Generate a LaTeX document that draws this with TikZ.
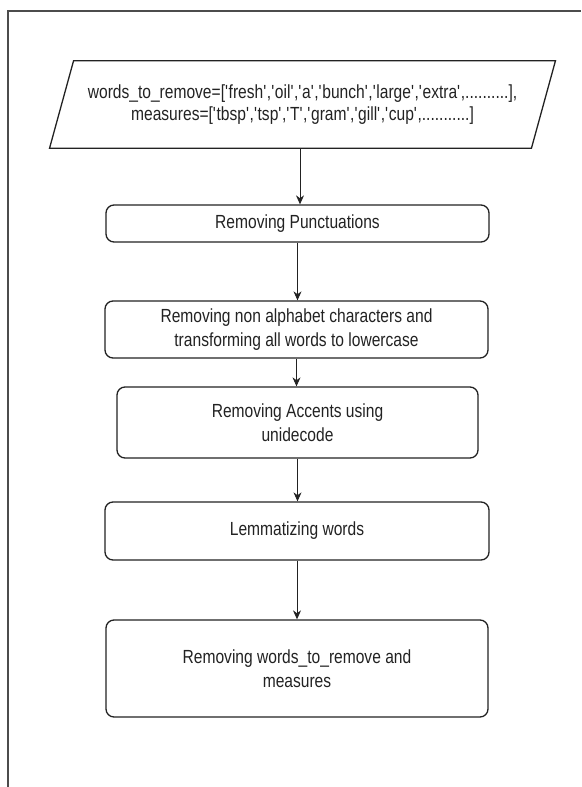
\documentclass[tikz,border=0pt]{standalone}
\usepackage{fontspec}
\setmainfont[FakeStretch=0.82]{Liberation Sans}
\usetikzlibrary{arrows.meta}
\definecolor{ink}{HTML}{222222}
\newcommand\sq{\textquotesingle}
\begin{document}
\begin{tikzpicture}[x=1pt,y=-1pt,
  stepbox/.style={draw=ink, line width=1.3pt, rounded corners=8pt, align=center,
     text=ink, font=\fontsize{19}{24}\selectfont, inner sep=0pt},
  conn/.style={draw=ink, line width=0.9pt, -{Stealth[length=9pt,width=8pt]}}]
\useasboundingbox (0,0) rectangle (581,787);
\draw[line width=1.3pt, draw=black!70] (8,787) -- (8,11) -- (581,11);
% input parallelogram
\node[align=center, text=ink, font=\fontsize{19}{22}\selectfont, minimum width=481.5pt,
      minimum height=87pt, inner sep=0pt] (in) at (302.5,104.5)
  {words\_to\_remove=[\sq fresh\sq,\sq oil\sq,\sq a\sq,\sq bunch\sq,\sq large\sq,\sq extra\sq,..........],\\
   measures=[\sq tbsp\sq,\sq tsp\sq,\sq T\sq,\sq gram\sq,\sq gill\sq,\sq cup\sq,...........]};
\draw[draw=ink, line width=1.3pt] ([xshift=12pt]in.north west) -- ([xshift=12pt]in.north east)
  -- ([xshift=-12pt]in.south east) -- ([xshift=-12pt]in.south west) -- cycle;
\node[stepbox, minimum width=383pt, minimum height=37pt] (b1) at (297.5,223.5) {Removing Punctuations};
\node[stepbox, minimum width=383pt, minimum height=57pt] (b2) at (296.5,329.5)
  {Removing non alphabet characters and\\transforming all words to lowercase};
\node[stepbox, minimum width=361pt, minimum height=71pt] (b3) at (297.5,422.5)
  {Removing Accents using\\unidecode};
\node[stepbox, minimum width=384pt, minimum height=58pt] (b4) at (297,531) {Lemmatizing words};
\node[stepbox, minimum width=382pt, minimum height=97pt] (b5) at (297,668.5)
  {Removing words\_to\_remove and\\measures};
\draw[conn] ([xshift=-2.5pt]in.south) -- ([xshift=-2.5pt]in.south |- b1.north);
\draw[conn] (b1.south) -- (b1.south |- b2.north);
\draw[conn] (b2.south) -- (b2.south |- b3.north);
\draw[conn] (b3.south) -- (b3.south |- b4.north);
\draw[conn] (b4.south) -- (b4.south |- b5.north);
\end{tikzpicture}
\end{document}
